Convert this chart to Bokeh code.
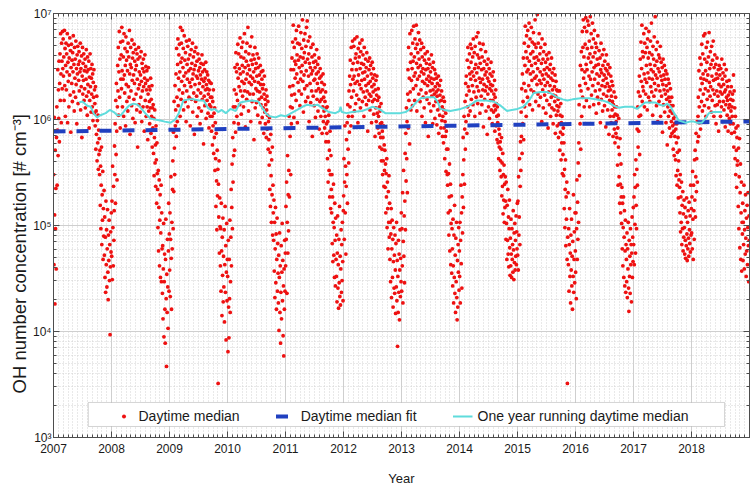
from bokeh.plotting import figure
from bokeh.models import (Range1d, FixedTicker, LinearAxis, LogAxis, Legend, LegendItem,
                          CustomJSTickFormatter, BoxAnnotation, Title)
from bokeh.embed import file_html
from bokeh.resources import INLINE

# ---------------- data (daytime medians, log10(conc) x 100, every ~2 days) ----------------
oh_2007 = [548,463,602,510,426,571,497,535,459,583,
612,538,590,647,566,628,601,655,579,634,
662,618,681,643,597,672,655,629,683,648,
676,641,659,618,684,632,667,603,651,672,
628,662,645,681,597,654,636,670,612,658,
642,677,623,665,588,649,671,634,656,617,
663,645,679,626,652,608,668,639,657,621,
674,633,648,596,661,643,669,615,652,637,
664,627,655,645,672,609,648,631,660,583,
641,668,624,653,637,662,618,646,629,657,
611,650,638,666,622,645,604,659,633,647,
626,655,592,640,618,662,631,648,607,639,
624,652,612,643,599,635,621,647,606,628,
615,594,631,572,608,586,622,561,599,578,604,553,590,567,582,
548,571,519,556,497,538,574,482,529,505,551,468,516,490,533,
472,508,451,489,437,523,463,496,442,478,515,456,430,491,467,505,448,482,397,461,494,475,512]

oh_2008 = [471,523,449,556,498,462,537,486,514,575,
548,596,521,618,567,634,589,543,612,651,
627,668,604,645,683,621,657,592,673,638,
661,629,687,646,612,674,638,659,603,681,
642,625,667,651,594,678,633,656,617,664,
646,608,672,631,659,621,684,643,586,652,
668,627,649,613,675,637,658,601,663,642,
619,671,634,655,597,647,666,624,651,609,
662,638,574,657,629,668,614,645,633,659,
607,642,621,664,636,598,653,627,648,612,
657,631,645,589,639,661,618,634,650,603,
628,646,612,637,581,624,649,608,631,617,
596,628,611,639,587,619,603,632,574,611,
592,614,568,601,547,583,609,559,576,537,594,562,521,578,549,
534,498,552,476,517,543,462,505,529,451,493,538,447,512,478,
436,481,412,459,502,395,447,473,421,389,468,506,431,367,454,418,487,442,403,476,521,438,492]

oh_2009 = [458,512,433,487,546,469,421,503,478,534,
561,497,588,532,617,573,548,632,594,609,
643,584,667,621,598,652,676,613,639,661,
628,671,645,603,687,654,619,672,636,658,
684,625,649,667,609,641,679,632,656,617,
663,644,598,674,627,652,638,669,612,657,
646,621,675,635,661,594,648,631,666,619,
653,638,672,607,643,659,625,647,586,664,
633,651,617,668,641,622,655,603,639,662,
628,646,611,657,634,649,596,642,625,653,
608,638,661,619,645,631,652,577,636,622,
647,613,639,628,654,601,633,645,618,629,
642,606,624,637,592,628,614,635,603,621,
612,634,589,621,603,576,617,594,628,568,606,583,611,552,597,
563,518,587,542,496,571,528,553,351,539,508,561,474,526,499,
462,497,438,521,476,415,489,453,507,428,471,442,496,409,463,518,437,481,392,456,502,429,468]

oh_2010 = [452,381,486,423,394,468,431,505,418,447,
489,534,462,517,558,497,583,541,612,566,
597,628,571,649,612,588,663,624,645,603,
652,618,671,639,596,662,631,648,614,677,
643,627,659,605,668,636,651,622,673,645,
612,658,634,681,627,649,593,664,638,655,
619,672,643,626,687,651,608,662,635,647,
624,669,641,598,656,633,678,617,652,639,
661,624,645,581,657,636,668,611,648,629,
653,616,641,662,627,604,649,635,658,619,
642,626,597,651,633,614,645,621,638,602,
629,646,611,633,587,624,641,607,619,596,
614,628,583,609,622,591,604,617,572,598,
581,557,602,534,569,518,586,547,503,562,529,574,491,538,512,
486,524,457,503,432,478,517,446,492,421,468,507,438,483,455,
427,472,401,451,493,418,462,389,437,481,412,456,502,429,467,396,443,377,459,421,486,438,474]

oh_2011 = [462,518,487,541,436,503,566,474,529,495,
552,603,527,631,584,612,548,647,596,623,
658,611,673,632,689,647,602,668,624,655,
639,676,652,618,684,643,661,597,672,635,
656,688,627,649,671,613,659,638,682,645,
624,667,651,694,636,658,607,675,642,663,
629,681,654,617,669,646,687,632,693,657,
621,674,641,662,598,653,678,634,649,616,
668,643,627,659,584,646,671,622,654,637,
613,661,638,649,602,655,627,643,666,619,
634,652,608,645,629,658,591,639,617,648,
626,603,641,619,635,587,628,612,643,598,
621,608,633,592,617,603,626,579,611,596,
587,612,563,598,541,579,604,552,571,527,589,548,516,566,534,
512,548,483,527,466,503,539,472,498,451,521,486,443,507,468,
452,491,428,474,509,441,463,422,487,446,518,433,471,425,459,496,437,482,448,503,466,429,514]

oh_2012 = [528,563,487,541,594,512,556,473,537,581,
548,597,521,614,572,603,559,627,588,641,
612,656,633,594,668,621,647,603,674,638,
653,627,669,641,608,676,634,658,615,662,
647,623,678,636,654,597,667,642,619,659,
633,672,648,611,664,629,653,637,675,617,
644,661,626,652,603,668,638,645,621,657,
632,649,614,663,627,641,589,655,634,618,
647,624,658,609,636,651,622,643,597,631,
654,617,639,626,648,605,633,619,642,584,
628,611,637,598,623,641,606,618,592,629,
603,621,587,612,574,608,596,583,615,561,
597,572,589,548,583,561,594,537,576,552,
571,536,558,512,549,527,563,498,541,516,478,532,503,547,489,
521,468,503,447,492,516,432,478,505,451,487,423,466,498,441,
472,436,491,458,417,483,442,503,429,467,386,452,418,486,437,473,411,458,496,433,469,447,512]

oh_2013 = [438,497,462,531,427,485,552,471,509,446,
523,568,496,587,542,611,563,598,531,624,
647,592,668,618,639,577,681,626,654,609,
662,637,684,648,613,672,655,629,688,641,
659,618,676,644,667,632,689,653,608,671,
638,663,649,682,624,657,641,675,617,651,
666,628,645,672,603,659,636,648,621,668,
643,611,656,634,662,597,647,625,653,638,
619,664,632,648,584,641,657,615,636,652,
627,645,608,639,661,622,634,649,596,628,
654,613,638,624,647,601,631,643,617,626,
639,595,622,634,609,628,641,587,617,632,
604,623,611,637,592,618,627,599,612,584,
603,621,578,609,592,617,563,598,584,606,551,589,572,594,548,
538,572,512,549,491,527,558,476,514,539,463,502,528,455,497,
478,443,506,462,427,491,451,519,436,472,418,488,447,503,432,411,467,423,482,456,498,439,476]

oh_2014 = [452,503,427,486,538,464,512,441,527,493,
548,583,517,562,603,539,591,617,572,634,
598,641,623,587,656,612,668,631,604,649,
627,662,643,608,671,638,654,619,667,645,
632,659,614,676,641,626,663,648,603,669,
637,652,621,678,644,631,661,615,682,649,
627,658,639,672,606,653,635,666,622,647,
614,659,638,628,671,593,648,633,655,619,
642,627,664,608,645,631,652,586,639,624,
657,612,636,648,601,629,643,618,633,654,
609,627,641,596,632,618,645,607,624,613,
637,589,621,609,628,594,615,603,581,612,
597,578,604,563,591,574,586,552,579,561,
572,546,583,528,559,537,568,511,548,524,557,503,539,517,546,
523,487,541,502,468,519,486,534,473,508,461,497,524,479,453,
488,462,506,473,451,497,468,482,456,514,477,449,493,465,502,458,486,471,509,463,494,478,521]

oh_2015 = [472,523,458,546,491,508,563,482,537,579,
552,607,584,629,568,643,596,617,658,581,
634,672,612,651,688,627,664,603,679,645,
658,621,684,647,669,632,691,655,614,676,
643,662,628,687,651,637,673,609,664,645,
682,626,658,671,639,694,653,617,668,641,
659,633,699,648,624,672,656,613,681,637,
662,645,621,668,634,653,598,676,642,628,
657,611,664,638,647,623,671,632,654,606,
643,661,618,649,635,657,592,641,626,663,
614,647,632,652,603,639,621,658,611,644,
628,637,596,623,648,609,631,617,642,587,
622,636,604,628,613,594,627,608,619,583,
612,596,627,571,604,588,615,562,597,578,603,549,586,567,592,
547,578,516,553,498,534,562,481,527,506,541,468,351,489,531,
463,497,438,482,516,452,474,427,491,458,506,443,471,421,485,452,529,437,468,494,446,512,476]

oh_2016 = [456,512,431,497,543,468,522,487,559,503,
578,614,547,632,596,651,572,627,664,603,
647,683,621,668,694,639,659,612,687,645,
671,634,696,652,618,683,647,667,693,629,
658,689,641,674,612,662,697,638,654,681,
623,668,645,691,632,659,676,614,649,684,
638,663,627,672,651,606,668,643,657,621,
679,634,652,615,665,641,628,658,597,647,
672,619,644,632,661,608,651,637,624,666,
642,613,655,631,648,593,639,661,622,646,
634,609,652,627,643,586,631,618,649,603,
628,641,597,622,636,609,617,632,584,614,
603,626,591,612,578,605,621,587,598,612,
583,604,557,592,538,574,601,546,567,521,582,539,512,558,527,
502,536,478,521,462,498,527,451,489,514,443,476,505,437,482,
468,447,493,432,478,459,503,441,419,486,452,471,436,497,463,482,428,474,508,451,489,466,517]

oh_2017 = [482,527,463,548,501,536,474,562,519,497,
553,591,538,612,574,626,589,603,641,567,
622,657,604,673,636,648,689,617,664,631,
659,627,681,643,612,672,638,663,624,686,
651,635,668,609,676,644,658,621,683,639,
663,617,652,674,631,647,691,626,661,638,
604,669,645,657,622,678,634,651,697,642,
628,666,613,655,639,673,598,648,632,661,
617,645,658,627,669,603,641,654,622,637,
649,588,633,657,614,642,628,651,607,638,
624,646,597,632,619,643,576,627,612,638,
603,621,634,592,617,608,629,584,613,598,
621,587,606,594,613,572,601,589,566,596,
584,603,562,591,547,578,596,538,569,552,583,526,561,543,571,
536,512,548,494,527,503,541,482,519,497,532,476,511,489,524,
498,473,517,486,469,508,481,526,492,467,503,478,514,488,471,522,496,483,509,475,538,491,516]

oh_2018 = [493,527,478,551,506,468,538,514,487,562,
524,571,508,546,587,532,563,598,541,579,
603,621,584,646,612,597,658,628,591,639,
652,617,671,634,608,662,643,624,679,638,
613,657,681,629,646,603,668,637,654,619,
673,642,627,659,611,682,635,648,622,664,
631,652,607,669,641,618,656,628,674,637,
603,649,624,661,613,638,652,596,643,627,
658,614,639,622,647,589,633,651,617,642,
626,603,648,631,612,657,624,638,598,644,
617,633,609,652,626,641,593,628,614,647,
621,636,604,618,631,589,623,611,637,601,
614,626,596,619,608,631,587,612,603,624,
618,596,642,574,627,588,611,563,603,548,592,571,536,583,557,
561,594,518,573,497,546,582,479,531,558,468,512,541,457,503,
492,521,467,503,482,538,459,496,514,473,529,488,452,507,476,519,463,498,531,481,447,509,486]

years = [2007, 2008, 2009, 2010, 2011, 2012, 2013, 2014, 2015, 2016, 2017, 2018]
yearly = [oh_2007, oh_2008, oh_2009, oh_2010, oh_2011, oh_2012,
          oh_2013, oh_2014, oh_2015, oh_2016, oh_2017, oh_2018]

# one-year running daytime median (year, log10 conc)
rm_years = [2007.44, 2007.50, 2007.58, 2007.64, 2007.70, 2007.75, 2007.81, 2007.90, 2007.97,
            2008.04, 2008.10, 2008.16, 2008.22, 2008.30, 2008.38, 2008.45, 2008.52, 2008.58,
            2008.67, 2008.75, 2008.84, 2008.92, 2009.02, 2009.10, 2009.16, 2009.24, 2009.33,
            2009.42, 2009.52, 2009.59, 2009.66, 2009.72, 2009.78, 2009.84, 2009.90, 2009.97,
            2010.05, 2010.14, 2010.22, 2010.30, 2010.42, 2010.53, 2010.60, 2010.66, 2010.72,
            2010.83, 2010.92, 2011.00, 2011.10, 2011.20, 2011.29, 2011.38, 2011.46, 2011.55,
            2011.63, 2011.75, 2011.86, 2011.93, 2011.95, 2011.97, 2012.05, 2012.15, 2012.32,
            2012.42, 2012.50, 2012.61, 2012.72, 2012.80, 2012.90, 2012.98, 2013.07, 2013.15,
            2013.25, 2013.33, 2013.45, 2013.56, 2013.62, 2013.67, 2013.75, 2013.84, 2013.93,
            2014.02, 2014.13, 2014.22, 2014.30, 2014.45, 2014.59, 2014.71, 2014.82, 2014.90,
            2015.00, 2015.10, 2015.20, 2015.28, 2015.40, 2015.51, 2015.60, 2015.68, 2015.78,
            2015.86, 2015.95, 2016.09, 2016.23, 2016.35, 2016.46, 2016.57, 2016.66, 2016.75,
            2016.85, 2016.98, 2017.06, 2017.13, 2017.20, 2017.30, 2017.38, 2017.45, 2017.52,
            2017.58, 2017.64, 2017.70, 2017.78, 2017.84, 2017.90, 2017.97, 2018.04, 2018.10,
            2018.18, 2018.24, 2018.30, 2018.38, 2018.47, 2018.53]
rm_log = [6.16, 6.17, 6.13, 6.12, 6.05, 6.02, 6.04, 6.06, 6.09,
          6.07, 6.04, 6.04, 6.08, 6.13, 6.15, 6.14, 6.10, 6.06,
          6.01, 6.00, 5.99, 5.98, 5.97, 6.00, 6.06, 6.18, 6.19,
          6.19, 6.18, 6.18, 6.11, 6.09, 6.10, 6.07, 6.09, 6.06,
          6.10, 6.08, 6.16, 6.17, 6.18, 6.17, 6.11, 6.06, 6.03,
          6.02, 6.04, 6.03, 6.06, 6.09, 6.12, 6.14, 6.13, 6.14,
          6.11, 6.07, 6.06, 6.08, 6.12, 6.07, 6.06, 6.07, 6.08,
          6.10, 6.12, 6.10, 6.06, 6.06, 6.06, 6.06, 6.07, 6.10,
          6.16, 6.20, 6.21, 6.21, 6.17, 6.10, 6.09, 6.08, 6.09,
          6.10, 6.12, 6.15, 6.18, 6.18, 6.17, 6.13, 6.08, 6.09,
          6.10, 6.12, 6.18, 6.25, 6.26, 6.26, 6.24, 6.21, 6.19,
          6.18, 6.19, 6.20, 6.20, 6.19, 6.18, 6.16, 6.13, 6.11,
          6.12, 6.12, 6.10, 6.13, 6.16, 6.16, 6.16, 6.14, 6.13,
          6.15, 6.12, 6.06, 5.99, 5.98, 5.97, 5.98, 5.98, 5.97,
          5.97, 6.01, 6.06, 6.07, 6.07, 6.07]

# linear fit of daytime medians
fit_years = [2007, 2019]
fit_conc = [7.7e5, 9.6e5]

x_ticks = [2007, 2008, 2009, 2010, 2011, 2012, 2013, 2014, 2015, 2016, 2017, 2018]
y_ticks = [1e3, 1e4, 1e5, 1e6, 1e7]

# ---------------- build columns ----------------
pts_x, pts_y = [], []
for yr, vals in zip(years, yearly):
    n = len(vals)
    for i, v in enumerate(vals):
        pts_x.append(yr + (i + 0.5) / n)
        pts_y.append(10 ** (v / 100.0))
rm_conc = [10 ** v for v in rm_log]

FONT = "Liberation Sans"
AX = "#4d4d4d"

p = figure(frame_width=696, frame_height=424, x_range=Range1d(2007, 2019), y_range=Range1d(1e3, 1e7),
           y_axis_type="log", output_backend="svg", toolbar_location=None,
           min_border_left=53, min_border_right=6, min_border_top=13, min_border_bottom=53,
           background_fill_color="white", border_fill_color="white")
p.outline_line_color = AX

bottom = p.below[0]
left = p.left[0]

minor_x = [2007 + k / 12 for k in range(12 * 12 + 1)]
minor_y = [m * 10 ** e for e in range(3, 7) for m in range(2, 10)]
xt = FixedTicker(ticks=x_ticks, minor_ticks=minor_x)
yt = FixedTicker(ticks=y_ticks, minor_ticks=minor_y)
sup = CustomJSTickFormatter(code="""
const e = Math.round(Math.log10(tick));
const s = {3: "\u00b3", 4: "\u2074", 5: "\u2075", 6: "\u2076", 7: "\u2077"};
return "10" + s[e];
""")

bottom.ticker = xt
left.ticker = yt
left.formatter = sup

top = LinearAxis(ticker=xt)
right = LogAxis(ticker=yt)
p.add_layout(top, "above")
p.add_layout(right, "right")

for ax in [bottom, left, top, right]:
    ax.major_tick_in = 6
    ax.major_tick_out = 0
    ax.minor_tick_in = 3
    ax.minor_tick_out = 0
    ax.axis_line_color = AX
    ax.major_tick_line_color = AX
    ax.minor_tick_line_color = AX
    ax.major_label_text_font = FONT
    ax.major_label_text_font_size = "12px"
    ax.major_label_text_color = "#1a1a1a"
for ax in [top, right]:
    ax.major_label_text_font_size = "1px"
    ax.major_label_text_alpha = 0
    ax.major_label_standoff = 0
top.major_label_standoff = 12
right.major_label_standoff = 5
bottom.major_label_standoff = 6
left.major_label_standoff = 2

bottom.axis_label = "Year"
bottom.axis_label_text_font = FONT
bottom.axis_label_text_font_size = "13px"
bottom.axis_label_text_font_style = "normal"
bottom.axis_label_text_color = "#1a1a1a"
bottom.axis_label_standoff = 15

ylab = Title(text="OH number concentration [# cm\u207b\u00b3]", align="left", offset=44,
             text_font=FONT, text_font_size="18.5px", text_font_style="normal",
             text_color="#1a1a1a", standoff=0)
p.add_layout(ylab, "left")

for g in [p.xgrid[0], p.ygrid[0]]:
    g.grid_line_color = "#cfcfcf"
    g.grid_line_width = 1
    g.minor_grid_line_color = "#d2d2d2"
    g.minor_grid_line_dash = "1 2"

r_pts = p.scatter(pts_x, pts_y, size=3.8, fill_color="#ee1111", line_color=None)
r_fit = p.line(fit_years, fit_conc, line_color="#2040c0", line_width=4, line_dash="12 11")
r_rm = p.line(rm_years, rm_conc, line_color="#5fdcdc", line_width=2)

box = BoxAnnotation(left=2007.6, right=2018.57, bottom=1270, top=2140,
                    fill_color="white", fill_alpha=1.0, line_color="#707070", line_width=1)
p.add_layout(box)

legend = Legend(items=[LegendItem(label="Daytime median", renderers=[r_pts]),
                       LegendItem(label="Daytime median fit", renderers=[r_fit]),
                       LegendItem(label="One year running daytime median", renderers=[r_rm])],
                orientation="horizontal", location="bottom_center", margin=11, padding=2,
                spacing=36, glyph_width=20, glyph_height=10, label_standoff=5,
                label_text_font=FONT, label_text_font_size="14px", label_text_color="#1a1a1a",
                background_fill_alpha=0, border_line_alpha=0)
p.add_layout(legend)

open("out.html", "w").write(file_html(p, INLINE))
